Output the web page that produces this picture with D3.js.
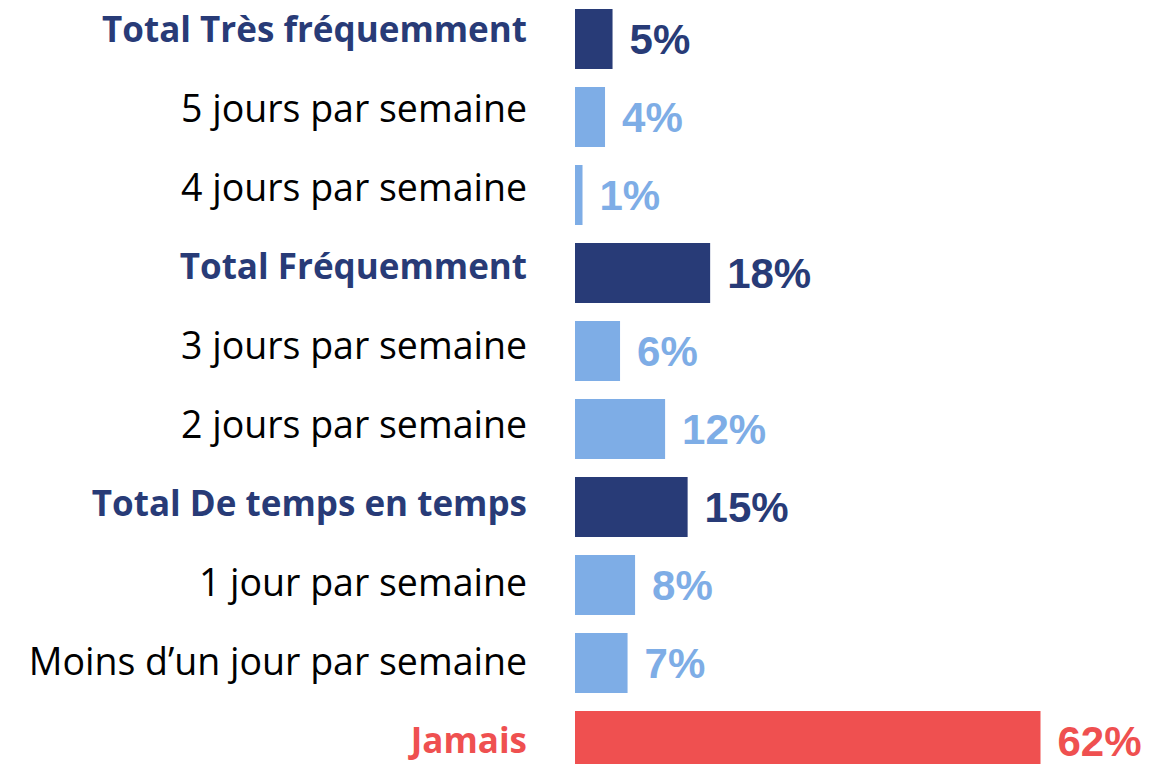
<!DOCTYPE html>
<meta charset="utf-8">
<style>
body { margin: 0; background: #fff; }
.cat { font-family: "Open Sans", sans-serif; }
.val { font-family: "Liberation Sans", Arial, sans-serif; font-size: 42px; font-weight: bold; }
</style>
<svg width="1149" height="764"></svg>
<script src="https://d3js.org/d3.v7.min.js"></script>
<script>

var categories = [
  "Total Très fréquemment",
  "5 jours par semaine",
  "4 jours par semaine",
  "Total Fréquemment",
  "3 jours par semaine",
  "2 jours par semaine",
  "Total De temps en temps",
  "1 jour par semaine",
  "Moins d’un jour par semaine",
  "Jamais"
];

var values = [5, 4, 1, 18, 6, 12, 15, 8, 7, 62];

// kind of row: total, detail, never
var kinds = ["total", "detail", "detail", "total", "detail", "detail", "total", "detail", "detail", "never"];

var barColor = { total: "#283b77", detail: "#7eade6", never: "#ef5050" };
var textColor = { total: "#283b77", detail: "#000000", never: "#ef5050" };

var svg = d3.select("svg");

var x = d3.scaleLinear()
    .domain([0, 62])
    .range([575, 1040.5]);

// bars
var y = d3.scaleBand()
    .domain(categories)
    .range([0, 780])
    .paddingInner(0.2308)
    .paddingOuter(0.1154);

// category labels sit on a slightly wider step than the bars
var yLabel = d3.scaleBand()
    .domain(categories)
    .range([-10.5, 779.5]);

var rows = categories.map(function(c, i) {
  return { name: c, value: values[i], kind: kinds[i] };
});

var row = svg.selectAll("g.row")
  .data(rows)
  .enter().append("g")
    .attr("class", "row");

row.append("rect")
    .attr("x", x(0))
    .attr("y", function(d) { return y(d.name); })
    .attr("width", function(d) { return x(d.value) - x(0); })
    .attr("height", y.bandwidth())
    .style("fill", function(d) { return barColor[d.kind]; });

row.append("text")
    .attr("class", "cat")
    .attr("x", 527)
    .attr("y", function(d) { return yLabel(d.name) + yLabel.bandwidth() / 2; })
    .attr("dy", ".36em")
    .style("text-anchor", "end")
    .style("font-size", function(d) { return d.kind === "detail" ? "37.5px" : "35px"; })
    .style("font-weight", function(d) { return d.kind === "detail" ? "normal" : "bold"; })
    .style("fill", function(d) { return textColor[d.kind]; })
    .text(function(d) { return d.name; });

row.append("text")
    .attr("class", "val")
    .attr("x", function(d) { return x(d.value) + 17; })
    .attr("y", function(d) { return y(d.name) + y.bandwidth() / 2; })
    .attr("dy", ".36em")
    .style("fill", function(d) { return barColor[d.kind]; })
    .text(function(d) { return d.value + "%"; });

</script>
